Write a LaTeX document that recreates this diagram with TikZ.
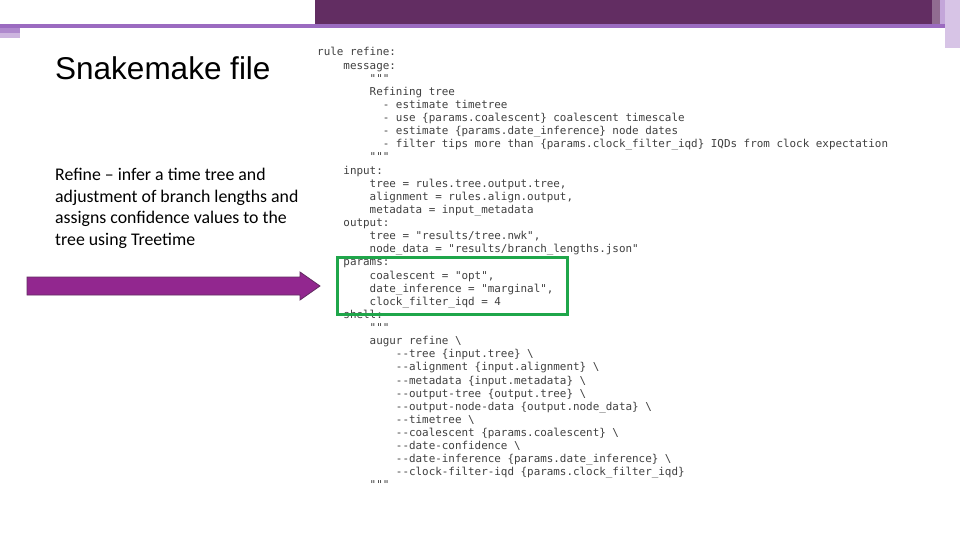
\documentclass[tikz,border=0pt]{standalone}
\usepackage{fontspec}
\usetikzlibrary{calc}
\newfontfamily\codefont{DejaVu Sans Mono}
\newfontfamily\titlefont{Liberation Sans}
\newfontfamily\bodyfont{Carlito}
\definecolor{darkpurple}{HTML}{622D62}
\definecolor{midpurple}{HTML}{9B6BC0}
\definecolor{arrowfill}{HTML}{92278F}
\definecolor{boxgreen}{HTML}{1FA64A}
\definecolor{codegray}{HTML}{404040}
\begin{document}
\begin{tikzpicture}[x=1pt,y=-1pt,
  codeline/.style={anchor=base west,inner sep=0,text height=8pt,text depth=2pt,font=\codefont\fontsize{10.9}{13}\selectfont,text=codegray}]
\useasboundingbox (0,0) rectangle (960,540);
\fill[white] (0,0) rectangle (960,540);
\fill[darkpurple] (315,0) rectangle (932,24);
\fill[midpurple] (0,24) rectangle (945,28);
\fill[midpurple!80] (0,28) rectangle (20,33);
\fill[midpurple!50] (0,33) rectangle (20,38);
\fill[darkpurple!70] (932,0) rectangle (940,24);
\fill[midpurple!60] (940,0) rectangle (945,24);
\fill[midpurple!40] (945,0) rectangle (960,48);
\node[anchor=west,inner sep=0,font=\titlefont\fontsize{31.5}{34}\selectfont] (title) at (55,68) {Snakemake file};
\node[anchor=north west,inner sep=0,align=left,font=\bodyfont\fontsize{17.8}{21.7}\selectfont] (desc) at (55,168)
 {Refine – infer a time tree and\\adjustment of branch lengths and\\assigns confidence values to the\\tree using Treetime};
\foreach \i/\t in {
0/{rule refine:},
1/{\ \ \ \ message:},
2/{\ \ \ \ \ \ \ \ """},
3/{\ \ \ \ \ \ \ \ Refining tree},
4/{\ \ \ \ \ \ \ \ \ \ - estimate timetree},
5/{\ \ \ \ \ \ \ \ \ \ - use \{params.coalescent\} coalescent timescale},
6/{\ \ \ \ \ \ \ \ \ \ - estimate \{params.date\_inference\} node dates},
7/{\ \ \ \ \ \ \ \ \ \ - filter tips more than \{params.clock\_filter\_iqd\} IQDs from clock expectation},
8/{\ \ \ \ \ \ \ \ """},
9/{\ \ \ \ input:},
10/{\ \ \ \ \ \ \ \ tree = rules.tree.output.tree,},
11/{\ \ \ \ \ \ \ \ alignment = rules.align.output,},
12/{\ \ \ \ \ \ \ \ metadata = input\_metadata},
13/{\ \ \ \ output:},
14/{\ \ \ \ \ \ \ \ tree = "results/tree.nwk",},
15/{\ \ \ \ \ \ \ \ node\_data = "results/branch\_lengths.json"},
16/{\ \ \ \ params:},
17/{\ \ \ \ \ \ \ \ coalescent = "opt",},
18/{\ \ \ \ \ \ \ \ date\_inference = "marginal",},
19/{\ \ \ \ \ \ \ \ clock\_filter\_iqd = 4},
20/{\ \ \ \ shell:},
21/{\ \ \ \ \ \ \ \ """},
22/{\ \ \ \ \ \ \ \ augur refine \textbackslash},
23/{\ \ \ \ \ \ \ \ \ \ \ \ --tree \{input.tree\} \textbackslash},
24/{\ \ \ \ \ \ \ \ \ \ \ \ --alignment \{input.alignment\} \textbackslash},
25/{\ \ \ \ \ \ \ \ \ \ \ \ --metadata \{input.metadata\} \textbackslash},
26/{\ \ \ \ \ \ \ \ \ \ \ \ --output-tree \{output.tree\} \textbackslash},
27/{\ \ \ \ \ \ \ \ \ \ \ \ --output-node-data \{output.node\_data\} \textbackslash},
28/{\ \ \ \ \ \ \ \ \ \ \ \ --timetree \textbackslash},
29/{\ \ \ \ \ \ \ \ \ \ \ \ --coalescent \{params.coalescent\} \textbackslash},
30/{\ \ \ \ \ \ \ \ \ \ \ \ --date-confidence \textbackslash},
31/{\ \ \ \ \ \ \ \ \ \ \ \ --date-inference \{params.date\_inference\} \textbackslash},
32/{\ \ \ \ \ \ \ \ \ \ \ \ --clock-filter-iqd \{params.clock\_filter\_iqd\}},
33/{\ \ \ \ \ \ \ \ """}}
  \node[codeline] (c\i) at (317,{56+13.12*\i}) {\t};
\node[draw=boxgreen,line width=2.8pt,minimum width=230pt,minimum height=57pt,anchor=north west] (pbox) at (336,256) {};
\coordinate (atail) at (27,286);
\coordinate (ahead) at (320,286);
\draw[fill=arrowfill,draw=darkpurple,line width=0.8pt]
  ($(atail)+(0,-9)$) -- ($(ahead)+(-20,-9)$) -- ($(ahead)+(-20,-14)$) -- (ahead)
  -- ($(ahead)+(-20,14)$) -- ($(ahead)+(-20,9)$) -- ($(atail)+(0,9)$) -- cycle;
\end{tikzpicture}
\end{document}
